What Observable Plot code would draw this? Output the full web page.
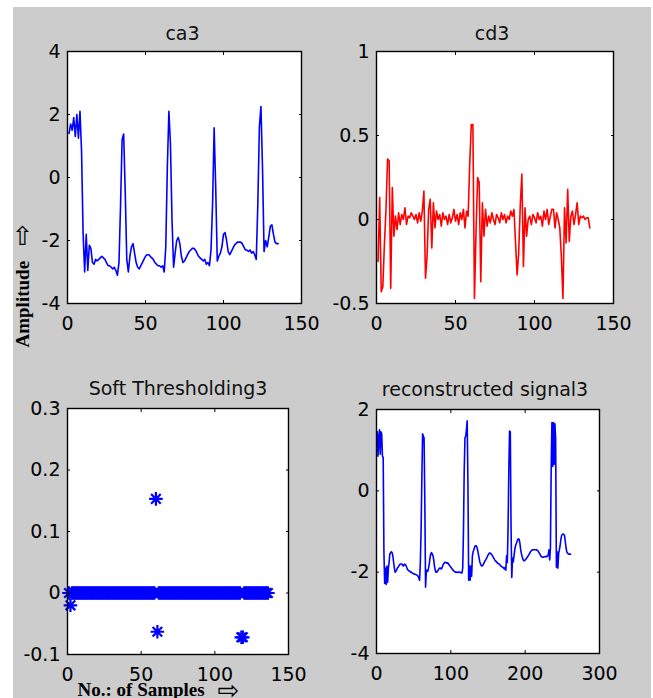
<!DOCTYPE html>
<html>
<head>
<meta charset="utf-8">
<script src="https://cdn.jsdelivr.net/npm/d3@7"></script>
<script src="https://cdn.jsdelivr.net/npm/@observablehq/plot@0.6"></script>
<style>
  html, body { margin: 0; padding: 0; background: #ffffff; }
  #page { position: relative; width: 653px; height: 698px; overflow: hidden; background: #ffffff; }
  #fig { position: absolute; left: 13px; top: 7px; width: 638px; height: 691px; background: #cccccc; }
  #page svg { position: absolute; }
</style>
</head>
<body>
<div id="page"><div id="fig"></div></div>
<script>
// ---------- data ----------
const titles = ["ca3", "cd3", "Soft Thresholding3", "reconstructed signal3"];
const yLabelWord = "Amplitude";
const yLabelArrow = "\u21E7";
const xLabelWord = "No.: of Samples";
const xLabelArrow = "\u21E8";

const ca3 = [
  1.4, 1.7, 1.5, 1.9, 1.3, 2.0, 1.25, 2.1, 0.85, -1.78,
  -3.0, -1.8, -2.95, -2.15, -2.25, -2.7, -2.75, -2.6, -2.65, -2.6,
  -2.55, -2.5, -2.55, -2.6, -2.7, -2.8, -2.8, -2.85, -2.9, -2.85,
  -2.95, -3.1, -2.7, -0.9, 1.2, 1.38, -0.45, -2.6, -3.0, -2.5,
  -2.2, -2.1, -2.4, -2.7, -2.85, -2.9, -2.8, -2.7, -2.6, -2.5,
  -2.45, -2.45, -2.5, -2.55, -2.6, -2.7, -2.75, -2.8, -2.8, -2.85,
  -2.8, -3.0, -2.2, 0.33, 2.1, 1.05, -1.35, -2.85, -2.4, -2.0,
  -1.9, -2.1, -2.5, -2.7, -2.65, -2.55, -2.45, -2.35, -2.3, -2.25,
  -2.25, -2.3, -2.4, -2.5, -2.55, -2.6, -2.65, -2.6, -2.75, -2.7,
  -2.8, -2.3, -0.84, 1.58, -0.3, -2.65, -2.5, -2.4, -2.2, -1.8,
  -1.75, -2.0, -2.35, -2.45, -2.35, -2.25, -2.15, -2.1, -2.05, -2.05,
  -2.05, -2.1, -2.2, -2.3, -2.3, -2.35, -2.3, -2.4, -2.35, -2.45,
  -2.6, -0.84, 1.6, 2.25, 0.33, -2.35, -2.0, -2.2, -1.9, -1.55,
  -1.5, -1.8, -2.05, -2.1, -2.1
];

const cd3 = [
  -0.25, 0.13, -0.43, -0.4, -0.15, 0.06, 0.36, 0.35, -0.41, 0.19,
  -0.1, 0.02, -0.06, 0.04, -0.03, 0.03, 0.0, 0.07, -0.03, 0.02,
  0.01, 0.04, 0.02, 0.0, 0.03, -0.02, 0.04, -0.01, 0.05, 0.17,
  -0.35, -0.22, 0.06, 0.12, -0.17, 0.1, -0.05, 0.05, 0.0, 0.03,
  -0.04, 0.04, 0.0, 0.02, -0.03, 0.03, -0.02, 0.01, 0.06, -0.01,
  0.03, -0.03, 0.04, 0.0, 0.06, -0.05, 0.05, 0.02, 0.33, 0.565,
  0.565, -0.47, -0.07, 0.25, 0.22, -0.37, 0.1, -0.1, 0.06, -0.04,
  0.02, -0.02, 0.04, 0.0, -0.03, 0.03, 0.01, -0.02, 0.04, 0.0,
  0.03, -0.02, 0.02, 0.0, 0.05, 0.02, 0.06, -0.14, -0.33, -0.2,
  0.085, 0.27, -0.28, 0.07, -0.1, 0.0, 0.02, -0.03, 0.03, 0.01,
  -0.02, 0.04, 0.0, 0.02, -0.04, 0.05, 0.0, 0.06, -0.03, 0.02,
  0.06, 0.06, -0.05, 0.04, 0.0, -0.05, -0.22, -0.47, 0.07, -0.14,
  0.18, -0.13, 0.02, 0.05, -0.03, 0.03, 0.1, -0.03, 0.02, 0.01,
  0.02, 0.0, 0.01, 0.01, -0.05
];

const softThr = [
  0, -0.02, 0, 0, 0, 0, 0, 0, 0, 0,
  0, 0, 0, 0, 0, 0, 0, 0, 0, 0,
  0, 0, 0, 0, 0, 0, 0, 0, 0, 0,
  0, 0, 0, 0, 0, 0, 0, 0, 0, 0,
  0, 0, 0, 0, 0, 0, 0, 0, 0, 0,
  0, 0, 0, 0, 0, 0, 0, 0, 0, 0.153,
  -0.063, 0, 0, 0, 0, 0, 0, 0, 0, 0,
  0, 0, 0, 0, 0, 0, 0, 0, 0, 0,
  0, 0, 0, 0, 0, 0, 0, 0, 0, 0,
  0, 0, 0, 0, 0, 0, 0, 0, 0, 0,
  0, 0, 0, 0, 0, 0, 0, 0, 0, 0,
  0, 0, 0, 0, 0, 0, 0, -0.072, -0.072, 0,
  0, 0, 0, 0, 0, 0, 0, 0, 0, 0,
  0, 0, 0, 0, 0, 0
];

const recon = [
  1.45, 0.85, 1.3, 1.5, 0.9, 1.45, 1.4, 0.85, 0.82, -1.52,
  -2.28, -1.9, -2.3, -1.85, -2.25, -1.9, -1.75, -1.55, -1.52, -1.5,
  -1.52, -1.6, -1.75, -1.9, -2.0, -1.98, -1.95, -1.9, -1.88, -1.85,
  -1.82, -1.8, -1.8, -1.8, -1.82, -1.85, -1.82, -1.8, -1.82, -1.85,
  -1.9, -1.94, -1.96, -1.97, -1.98, -2.0, -2.0, -2.02, -2.03, -2.04,
  -2.05, -2.05, -2.06, -2.07, -2.08, -2.1, -2.15, -2.2, -1.75, -0.98,
  0.3, 1.4, 1.35, 1.3, -0.24, -2.37, -2.0, -1.95, -1.98, -1.9,
  -1.8, -1.65, -1.55, -1.52, -1.55, -1.6, -1.7, -1.85, -1.95, -2.0,
  -2.0, -1.98, -1.95, -1.92, -1.9, -1.9, -1.92, -1.9, -1.85, -1.8,
  -1.78, -1.76, -1.76, -1.77, -1.78, -1.77, -1.8, -1.83, -1.85, -1.88,
  -1.9, -1.93, -1.95, -1.97, -1.98, -2.0, -2.0, -2.0, -2.01, -2.0,
  -2.0, -2.0, -2.01, -2.02, -2.02, -1.9, -0.98, 0.5, 1.3, 1.35,
  1.5, 1.72, 0.2, -2.2, -1.85, -2.2, -1.85, -2.1, -1.6, -1.5,
  -1.45, -1.38, -1.35, -1.35, -1.38, -1.45, -1.55, -1.65, -1.75, -1.8,
  -1.84, -1.85, -1.83, -1.8, -1.76, -1.72, -1.7, -1.66, -1.62, -1.58,
  -1.55, -1.53, -1.53, -1.55, -1.57, -1.6, -1.63, -1.66, -1.7, -1.72,
  -1.74, -1.76, -1.78, -1.79, -1.8, -1.82, -1.84, -1.86, -1.87, -1.88,
  -1.9, -1.92, -1.88, -1.95, -1.6, -1.76, -0.9, 0.5, 1.47, 1.45,
  -0.9, -2.13, -1.65, -1.75, -1.6, -1.45, -1.35, -1.3, -1.25, -1.2,
  -1.18, -1.2, -1.3, -1.45, -1.55, -1.62, -1.68, -1.72, -1.72, -1.7,
  -1.68, -1.65, -1.63, -1.6, -1.57, -1.54, -1.5, -1.48, -1.46, -1.45,
  -1.45, -1.45, -1.45, -1.45, -1.45, -1.46, -1.47, -1.5, -1.53, -1.56,
  -1.6, -1.62, -1.63, -1.63, -1.63, -1.62, -1.62, -1.61, -1.62, -1.6,
  -1.58, -1.45, -1.7, -1.4, 0.57, 1.68, 0.6, 1.68, 0.65, 1.65,
  1.3, -1.88, -1.5, -1.9, -1.55, -1.45, -1.35, -1.2, -1.1, -1.07,
  -1.06, -1.07, -1.1, -1.25, -1.4, -1.5, -1.53, -1.55, -1.56, -1.55,
  -1.56
];

const xTicks150 = [0, 50, 100, 150];
const xTicks300 = [0, 100, 200, 300];
const yTicksCa = [-4, -2, 0, 2, 4];
const yTicksCd = [-0.5, 0, 0.5, 1];
const yTicksSt = [-0.1, 0, 0.1, 0.2, 0.3];
const yTicksRe = [-4, -2, 0, 2];

// ---------- helpers ----------
const fmt = d => String(d);
const blank = () => "";
const sansFont = "'DejaVu Sans', Verdana, sans-serif";
const serifFont = "'Liberation Serif', 'Times New Roman', 'DejaVu Serif', serif";
const arrowFont = "'DejaVu Sans', sans-serif";

// MATLAB-like '*' marker: + and x combined
const starSymbol = {
  draw(ctx, size) {
    const r = Math.sqrt(size / Math.PI);
    const d = r * Math.SQRT1_2;
    ctx.moveTo(-r, 0); ctx.lineTo(r, 0);
    ctx.moveTo(0, -r); ctx.lineTo(0, r);
    ctx.moveTo(-d, -d); ctx.lineTo(d, d);
    ctx.moveTo(-d, d); ctx.lineTo(d, -d);
  }
};

function axesMarks(xt, yt) {
  return [
    Plot.frame({stroke: "#000", strokeWidth: 1.4}),
    Plot.axisX({ticks: xt, tickSize: -3, tickPadding: 16, tickFormat: fmt, label: null, fontSize: 19}),
    Plot.axisX({anchor: "top", ticks: xt, tickSize: -3, tickFormat: blank, label: null}),
    Plot.axisY({ticks: yt, tickSize: -3, tickPadding: 10, tickFormat: fmt, label: null, fontSize: 19}),
    Plot.axisY({anchor: "right", ticks: yt, tickSize: -3, tickFormat: blank, label: null})
  ];
}

function panel({left, top, width, height, ml, mr, mt, mb, xDomain, yDomain, xt, yt, title, titleDx, titleDy, data, extra}) {
  const svg = Plot.plot({
    width, height,
    marginLeft: ml, marginRight: mr, marginTop: mt, marginBottom: mb,
    x: {domain: xDomain},
    y: {domain: yDomain},
    style: {background: "transparent", fontFamily: sansFont, fontSize: "19px", color: "#000", overflow: "visible"},
    marks: [
      Plot.frame({fill: "#ffffff", stroke: null}),
      ...data,
      ...axesMarks(xt, yt),
      Plot.text([title], {text: d => d, frameAnchor: "top", dx: titleDx, dy: titleDy, fontSize: 19, fill: "#111"}),
      ...(extra || [])
    ]
  });
  svg.style.left = left + "px";
  svg.style.top = top + "px";
  document.getElementById("page").appendChild(svg);
}

// ---------- ca3 ----------
panel({
  left: 13, top: 7, width: 317, height: 343, ml: 54, mr: 29, mt: 44, mb: 47,
  xDomain: [0, 150], yDomain: [-4, 4], xt: xTicks150, yt: yTicksCa,
  title: titles[0], titleDx: -2, titleDy: -24.7,
  data: [Plot.line(ca3, {x: (d, i) => i + 1, y: d => d, stroke: "#0000ff", strokeWidth: 1.6})],
  extra: [
    Plot.text([yLabelWord], {text: d => d, frameAnchor: "bottom-left", rotate: -90, textAnchor: "start",
      lineAnchor: "middle", dx: -45, dy: 44, fontFamily: serifFont, fontWeight: "bold", fontSize: 19, fill: "#000"}),
    Plot.text([yLabelArrow], {text: d => d, frameAnchor: "bottom-left", textAnchor: "middle",
      lineAnchor: "middle", dx: -45, dy: -67, fontFamily: arrowFont, fontSize: 26, fill: "#000"})
  ]
});

// ---------- cd3 ----------
panel({
  left: 330, top: 7, width: 321, height: 343, ml: 46, mr: 38, mt: 44, mb: 47,
  xDomain: [0, 150], yDomain: [-0.5, 1], xt: xTicks150, yt: yTicksCd,
  title: titles[1], titleDx: -3, titleDy: -24.7,
  data: [Plot.line(cd3, {x: (d, i) => i + 1, y: d => d, stroke: "#ff0000", strokeWidth: 1.6})]
});

// ---------- Soft Thresholding3 ----------
panel({
  left: 13, top: 350, width: 317, height: 348, ml: 54, mr: 42, mt: 58, mb: 44,
  xDomain: [0, 150], yDomain: [-0.1, 0.3], xt: xTicks150, yt: yTicksSt,
  title: titles[2], titleDx: 0, titleDy: -26.7,
  data: [Plot.dot(softThr, {x: (d, i) => i + 1, y: d => d, symbol: starSymbol, r: 6.8,
    stroke: "#0000ff", strokeWidth: 2.2, fill: "none"})],
  extra: [
    Plot.text([xLabelWord], {text: d => d, frameAnchor: "bottom-left", textAnchor: "start",
      lineAnchor: "middle", dx: 10, dy: 35, fontFamily: serifFont, fontWeight: "bold", fontSize: 19, fill: "#000"}),
    Plot.text([xLabelArrow], {text: d => d, frameAnchor: "bottom-left", textAnchor: "middle",
      lineAnchor: "middle", dx: 161, dy: 36, fontFamily: arrowFont, fontSize: 26, fill: "#000"})
  ]
});

// ---------- reconstructed signal3 ----------
panel({
  left: 330, top: 350, width: 321, height: 348, ml: 46, mr: 52, mt: 59, mb: 45,
  xDomain: [0, 300], yDomain: [-4, 2], xt: xTicks300, yt: yTicksRe,
  title: titles[3], titleDx: -3, titleDy: -26.7,
  data: [Plot.line(recon, {x: (d, i) => i + 1, y: d => d, stroke: "#0000ff", strokeWidth: 1.6})]
});
</script>
</body>
</html>
